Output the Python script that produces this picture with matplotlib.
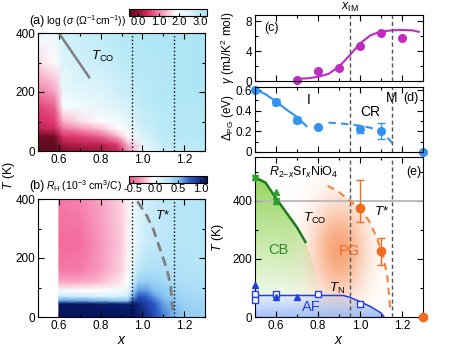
import numpy as np
import matplotlib
matplotlib.use('Agg')
import matplotlib.pyplot as plt
from matplotlib.colors import LinearSegmentedColormap, to_rgb
from matplotlib.patches import Polygon
from matplotlib.ticker import MultipleLocator, FormatStrFormatter

plt.rcParams['font.family'] = ['Liberation Sans', 'DejaVu Sans']
plt.rcParams['font.size'] = 8.5
plt.rcParams['mathtext.fontset'] = 'custom'
plt.rcParams['mathtext.rm'] = 'Liberation Sans'
plt.rcParams['mathtext.it'] = 'Liberation Sans:italic'
plt.rcParams['mathtext.bf'] = 'Liberation Sans:bold'
plt.rcParams['axes.unicode_minus'] = False
plt.rcParams['axes.linewidth'] = 0.8

# ---------------- data ----------------
# (a) log conductivity map, one column per x
sig_x = [0.5, 0.58, 0.62, 0.7, 0.8, 0.88, 0.93, 1.0, 1.1, 1.3]
sig_T = [0, 25, 50, 75, 100, 150, 200, 300, 400]
sig_cols = [
    [-0.4, -0.4, -0.3, 0.3, 0.45, 0.6, 0.95, 1.6, 2.1],
    [-0.4, -0.35, -0.2, 0.4, 0.55, 0.8, 1.2, 1.8, 2.2],
    [-0.1, 0.2, 0.5, 0.9, 1.3, 1.9, 2.2, 2.5, 2.7],
    [0.0, 0.3, 0.6, 1.1, 1.6, 2.1, 2.4, 2.7, 2.8],
    [0.1, 0.35, 0.8, 1.4, 1.8, 2.3, 2.5, 2.8, 2.9],
    [0.3, 0.6, 1.3, 1.8, 2.1, 2.5, 2.7, 2.9, 3.0],
    [1.0, 1.4, 1.8, 2.1, 2.3, 2.6, 2.8, 3.0, 3.1],
    [2.0, 2.3, 2.5, 2.7, 2.8, 2.9, 3.0, 3.1, 3.1],
    [2.8, 2.9, 3.0, 3.0, 3.0, 3.1, 3.1, 3.1, 3.2],
    [3.0, 3.0, 3.1, 3.1, 3.1, 3.1, 3.2, 3.2, 3.2],
]
tco_a_x = [0.6, 0.745]
tco_a_T = [400, 250]

# (b) Hall coefficient map, one column per x
rh_x = [0.6, 0.7, 0.8, 0.9, 0.93, 0.95, 0.98, 1.02, 1.06, 1.1, 1.15, 1.2, 1.3]
rh_T = [0, 45, 55, 70, 90, 120, 160, 250, 400]
rh_cols = [
    [1.15, 1.15, 0.6, 0.25, 0.0, -0.3, -0.45, -0.5, -0.45],
    [1.15, 1.15, 0.6, 0.2, -0.05, -0.3, -0.45, -0.5, -0.42],
    [1.15, 1.12, 0.55, 0.15, -0.05, -0.25, -0.33, -0.35, -0.3],
    [1.15, 1.1, 0.5, 0.15, 0.0, -0.12, -0.18, -0.2, -0.18],
    [1.15, 1.1, 0.5, 0.2, 0.05, -0.05, -0.08, -0.1, -0.1],
    [1.15, 1.1, 0.8, 0.5, 0.3, 0.15, 0.05, 0.0, 0.0],
    [1.12, 1.05, 0.95, 0.8, 0.6, 0.4, 0.25, 0.12, 0.1],
    [1.0, 0.9, 0.85, 0.75, 0.6, 0.45, 0.33, 0.2, 0.18],
    [0.85, 0.75, 0.7, 0.6, 0.5, 0.4, 0.33, 0.25, 0.22],
    [0.7, 0.6, 0.55, 0.5, 0.45, 0.38, 0.32, 0.28, 0.25],
    [0.55, 0.5, 0.47, 0.43, 0.4, 0.35, 0.32, 0.3, 0.28],
    [0.45, 0.42, 0.4, 0.38, 0.36, 0.33, 0.31, 0.3, 0.3],
    [0.4, 0.38, 0.37, 0.35, 0.33, 0.32, 0.3, 0.3, 0.3],
]
tstar_b_x = [0.976, 1.02, 1.053, 1.08, 1.108, 1.125, 1.136, 1.145]
tstar_b_T = [392, 345, 296, 240, 182, 140, 102, 23]

# boundaries x_IM and metal
x_bounds = [0.95, 1.15]

# (c) electronic specific heat coefficient
gam_x = [0.7, 0.8, 0.9, 1.0, 1.1, 1.2]
gam_y = [0.1, 1.3, 1.7, 4.7, 6.4, 5.7]
gam_fit_x = [0.7, 0.75, 0.8, 0.85, 0.9, 0.95, 1.0, 1.05, 1.1, 1.15, 1.2, 1.25, 1.28]
gam_fit_y = [0.3, 0.35, 0.55, 0.95, 1.9, 3.4, 5.0, 6.1, 6.6, 6.75, 6.8, 6.75, 6.55]

# (d) pseudogap size
pg_x = [0.5, 0.6, 0.7, 0.8, 1.0, 1.1, 1.3]
pg_y = [0.6, 0.485, 0.31, 0.245, 0.22, 0.2, 0.0]
pg_err_lo = [0, 0.03, 0.03, 0, 0.035, 0.07, 0]
pg_err_hi = [0, 0.03, 0.03, 0, 0.035, 0.085, 0]
pg_solid_x = [0.5, 0.55, 0.6, 0.65, 0.7, 0.745]
pg_solid_y = [0.61, 0.56, 0.49, 0.41, 0.34, 0.25]
pg_dash_x = [0.85, 0.9, 0.95, 1.0, 1.05, 1.1, 1.14, 1.165]
pg_dash_y = [0.285, 0.278, 0.268, 0.255, 0.235, 0.195, 0.12, 0.06]

# (e) phase diagram
tco_x = [0.5, 0.55, 0.6, 0.65, 0.7, 0.74]
tco_T = [480, 462, 408, 358, 308, 258]
cb_edge_x = [0.77, 0.79, 0.8, 0.8]
cb_edge_T = [200, 150, 100, 74]
tco_up_x = [0.5, 0.6, 0.6]
tco_up_T = [480, 428, 400]
tco_dn_x = [0.5, 0.6]
tco_dn_T = [478, 398]
tn_x = [0.5, 0.8, 0.92, 0.95, 1.0, 1.05, 1.1, 1.115]
tn_T = [74, 74, 74, 68, 53, 36, 14, 0]
tn_sq_x = [0.5, 0.5, 0.6, 0.8, 1.0]
tn_sq_T = [78, 57, 78, 80, 46]
tn_tri_x = [0.5, 0.6, 0.7]
tn_tri_T = [111, 68, 68]
tstar_x = [0.846, 0.9, 0.95, 1.0, 1.043, 1.08, 1.11, 1.13, 1.14, 1.145]
tstar_T = [451, 430, 400, 372, 331, 272, 210, 140, 60, 20]
tstar_pt_x = [1.0, 1.1, 1.3]
tstar_pt_T = [375, 226, 0]
tstar_err_lo = [50, 47, 0]
tstar_err_hi = [95, 47, 0]

# ---------------- colours ----------------
sig_cmap = LinearSegmentedColormap.from_list('sig', [
    (0.0, '#5c0a1e'), (0.118, '#8c1232'), (0.25, '#e0306a'),
    (0.41, '#f592b7'), (0.6, '#ffffff'), (0.78, '#dcf4fb'), (1.0, '#a3e2f4')])
rh_cmap = LinearSegmentedColormap.from_list('rh', [
    (0.0, '#f04f8a'), (0.17, '#f8a5c5'), (0.31, '#ffffff'),
    (0.51, '#b8e6f8'), (0.64, '#80c0f0'), (0.77, '#2f5fcf'), (1.0, '#06155e')])
magenta = '#c02cc0'
lblue = '#3393f0'
orange = '#f26b22'
green = '#1f7a1f'
gmark = '#2aa22a'
blue = '#1f3fe0'


def style(ax, xmaj, xmin, ymaj, ymin):
    ax.xaxis.set_major_locator(MultipleLocator(xmaj))
    ax.xaxis.set_minor_locator(MultipleLocator(xmin))
    ax.yaxis.set_major_locator(MultipleLocator(ymaj))
    ax.yaxis.set_minor_locator(MultipleLocator(ymin))
    ax.tick_params(which='both', direction='in', top=True, right=True, width=0.8, pad=2)
    ax.tick_params(which='major', length=4)
    ax.tick_params(which='minor', length=2.5)


def shade(ax, rgb, alpha, extent, clip_xy, z):
    img = np.zeros(alpha.shape + (4,))
    img[..., :3] = to_rgb(rgb)
    img[..., 3] = np.clip(alpha, 0, 1)
    im = ax.imshow(img, extent=extent, origin='lower', aspect='auto',
                   interpolation='bilinear', zorder=z)
    poly = Polygon(clip_xy, closed=True, transform=ax.transData,
                   facecolor='none', edgecolor='none')
    ax.add_patch(poly)
    im.set_clip_path(poly)


fig = plt.figure(figsize=(4.69, 3.5), dpi=100)
W, H = 469.0, 350.0


def add(l, t, r, b):
    return fig.add_axes([l / W, 1 - b / H, (r - l) / W, (b - t) / H])


# ---------------- (a) ----------------
ax_a = add(38, 33, 205, 151)
ma = ax_a.pcolormesh(sig_x, sig_T, np.array(sig_cols).T, shading='gouraud',
                     cmap=sig_cmap, vmin=-0.45, vmax=3.35, rasterized=True)
ax_a.plot(tco_a_x, tco_a_T, color='#808080', lw=1.8)
for xb in x_bounds:
    ax_a.axvline(xb, color='k', ls=':', lw=1.0)
ax_a.text(0.755, 320, r'$T_{\rm CO}$', fontsize=9.5, va='center')
ax_a.set_xlim(0.5, 1.3)
ax_a.set_ylim(0, 400)
style(ax_a, 0.2, 0.1, 200, 100)
ax_a.xaxis.set_major_formatter(FormatStrFormatter('%.1f'))

cax_a = fig.add_axes([129 / W, 1 - 16 / H, 78 / W, 7 / H])
cb_a = fig.colorbar(ma, cax=cax_a, orientation='horizontal')
cb_a.set_ticks([0, 1, 2, 3])
cb_a.ax.xaxis.set_major_formatter(FormatStrFormatter('%.1f'))
cb_a.ax.tick_params(direction='in', length=2, labelsize=8, pad=1)
cb_a.outline.set_linewidth(0.8)
fig.text(29 / W, 1 - 21 / H, '(a)', fontsize=9, va='center')
fig.text(46 / W, 1 - 21 / H, r'log ($\sigma$ ($\Omega^{-1}$cm$^{-1}$))', fontsize=7.5, va='center')

# ---------------- (b) ----------------
ax_b = add(38, 199, 205, 317)
mb = ax_b.pcolormesh(rh_x, rh_T, np.array(rh_cols).T, shading='gouraud',
                     cmap=rh_cmap, vmin=-0.6, vmax=1.15, rasterized=True)
ax_b.plot(tstar_b_x, tstar_b_T, color='#808080', lw=2.0, dashes=(3.5, 2))
for xb in x_bounds:
    ax_b.axvline(xb, color='k', ls=':', lw=1.0)
ax_b.text(1.06, 345, r'$T$*', fontsize=9.5, va='center')
ax_b.set_xlim(0.5, 1.3)
ax_b.set_ylim(0, 400)
style(ax_b, 0.2, 0.1, 200, 100)
ax_b.xaxis.set_major_formatter(FormatStrFormatter('%.1f'))
ax_b.set_xlabel(r'$x$', fontsize=10, labelpad=1)

cax_b = fig.add_axes([129 / W, 1 - 183 / H, 78 / W, 7 / H])
cb_b = fig.colorbar(mb, cax=cax_b, orientation='horizontal')
cb_b.set_ticks([-0.5, 0, 0.5, 1.0])
cb_b.ax.xaxis.set_major_formatter(FormatStrFormatter('%.1f'))
cb_b.ax.tick_params(direction='in', length=2, labelsize=8, pad=1)
cb_b.outline.set_linewidth(0.8)
fig.text(29 / W, 1 - 186 / H, '(b)', fontsize=9, va='center')
fig.text(46 / W, 1 - 186 / H, r'$R_{\rm H}$ (10$^{-3}$ cm$^3$/C)', fontsize=7.5, va='center')

fig.text(9 / W, 1 - 175 / H, r'$T$ (K)', rotation=90, ha='center', va='center', fontsize=9)

# ---------------- (c) ----------------
ax_c = add(255, 15, 423, 81)
ax_c.plot(gam_fit_x, gam_fit_y, color=magenta, lw=1.5)
ax_c.plot(gam_x, gam_y, 'o', color=magenta, ms=5.5, clip_on=False)
for xb in x_bounds:
    ax_c.axvline(xb, color='#555555', lw=1.0, dashes=(3, 2))
ax_c.set_xlim(0.5, 1.3)
ax_c.set_ylim(0, 8.8)
style(ax_c, 0.2, 0.1, 4, 2)
ax_c.set_xticklabels([])
ax_c.text(0.545, 7.0, '(c)', fontsize=9, va='center')
ax_c.text(0.95, 1.12, r'$x_{\rm IM}$', transform=ax_c.get_xaxis_transform(),
          ha='center', va='center', fontsize=9)
fig.text(228 / W, 1 - 48 / H, r'$\gamma$ (mJ/K$^2$ mol)', rotation=90,
         ha='center', va='center', fontsize=8.5)

# ---------------- (d) ----------------
ax_d = add(255, 87, 423, 152)
ax_d.plot(pg_solid_x, pg_solid_y, color=lblue, lw=1.5)
ax_d.plot(pg_dash_x, pg_dash_y, color=lblue, lw=1.5, dashes=(3.5, 2.5))
ax_d.errorbar(pg_x, pg_y, yerr=[pg_err_lo, pg_err_hi], fmt='o', color=lblue,
              ms=5.5, capsize=3, elinewidth=1, capthick=1, clip_on=False)
for xb in x_bounds:
    ax_d.axvline(xb, color='#555555', lw=1.0, dashes=(3, 2))
ax_d.set_xlim(0.5, 1.3)
ax_d.set_ylim(0, 0.63)
style(ax_d, 0.2, 0.1, 0.2, 0.1)
ax_d.set_xticklabels([])
ax_d.yaxis.set_major_formatter(plt.FuncFormatter(lambda v, p: '0' if abs(v) < 1e-9 else '%.1f' % v))
ax_d.text(0.755, 0.5, 'I', fontsize=10, va='center', ha='center')
ax_d.text(1.05, 0.39, 'CR', fontsize=10, va='center', ha='center')
ax_d.text(1.15, 0.52, 'M', fontsize=10, va='center', ha='center')
ax_d.text(1.205, 0.52, '(d)', fontsize=9, va='center')
fig.text(228 / W, 1 - 118 / H, r'$\Delta_{\rm PG}$ (eV)', rotation=90,
         ha='center', va='center', fontsize=8.5)

# ---------------- (e) ----------------
ax_e = add(255, 157, 423, 317)
xlo, xhi, tlo, thi = 0.5, 1.3, 0, 550
gx, gT = np.meshgrid(np.linspace(xlo, xhi, 240), np.linspace(tlo, thi, 240))

# pseudogap glow
pg_alpha = 0.62 * np.exp(-((gx - 0.9) / 0.13) ** 2 - ((gT - 230) / 165) ** 2)
pg_clip = [(xlo, tlo), (xlo, thi), (tstar_x[0], thi)] + list(zip(tstar_x, tstar_T)) + [(tstar_x[-1], tlo)]
shade(ax_e, orange, pg_alpha, (xlo, xhi, tlo, thi), pg_clip, 1)

# charge-ordered (CB) region
cb_alpha = (0.12 + 0.7 * np.clip((gT - 74) / (480 - 74), 0, 1)) * np.clip(1 - 0.6 * (gx - 0.68) / 0.12, 0.4, 1)
cb_clip = list(zip(tco_x, tco_T)) + list(zip(cb_edge_x, cb_edge_T)) + [(xlo, tn_T[0])]
shade(ax_e, '#7fcc3c', cb_alpha, (xlo, xhi, tlo, thi), cb_clip, 1.5)

# antiferromagnetic region
af_alpha = 0.15 + 0.4 * np.clip(1 - gT / 74, 0, 1)
af_clip = list(zip(tn_x, tn_T)) + [(xlo, tlo)]
shade(ax_e, '#5a8ff0', af_alpha, (xlo, xhi, tlo, thi), af_clip, 1.5)

ax_e.axhline(400, color='#b8b8b8', lw=1.3, zorder=2)
for xb in x_bounds:
    ax_e.axvline(xb, color='#555555', lw=1.0, dashes=(3, 2), zorder=2)

ax_e.plot(tco_x, tco_T, color=green, lw=1.8, zorder=3)
ax_e.plot(tn_x, tn_T, color=blue, lw=1.1, zorder=3)
ax_e.plot(tstar_x, tstar_T, color='#f5843a', lw=1.5, dashes=(3.5, 2.5), zorder=3)

ax_e.plot(tco_up_x, tco_up_T, '^', color=gmark, ms=5, zorder=4, clip_on=False)
ax_e.plot(tco_dn_x, tco_dn_T, 'v', color=gmark, ms=5, zorder=4, clip_on=False)
ax_e.plot(tn_sq_x, tn_sq_T, 's', mfc='white', mec=blue, mew=1.0, ms=5, zorder=4, clip_on=False)
ax_e.plot(tn_tri_x, tn_tri_T, '^', color=blue, ms=5, zorder=5, clip_on=False)
ax_e.errorbar(tstar_pt_x, tstar_pt_T, yerr=[tstar_err_lo, tstar_err_hi], fmt='o',
              color=orange, ms=6, capsize=3, elinewidth=1, capthick=1, zorder=5, clip_on=False)

ax_e.set_xlim(xlo, xhi)
ax_e.set_ylim(tlo, thi)
style(ax_e, 0.2, 0.1, 200, 100)
ax_e.xaxis.set_major_formatter(FormatStrFormatter('%.1f'))
ax_e.set_xlabel(r'$x$', fontsize=10, labelpad=1)

ax_e.text(0.73, 497, r'$R_{2\mathrm{-}x}$Sr$_x$NiO$_4$', fontsize=9, ha='center', va='center')
ax_e.text(1.22, 497, '(e)', fontsize=9, va='center')
ax_e.text(0.73, 340, r'$T_{\rm CO}$', fontsize=9.5, va='center')
ax_e.text(0.61, 229, 'CB', fontsize=10.5, color='#2e8b22', ha='center', va='center')
ax_e.text(0.95, 226, 'PG', fontsize=10.5, color=orange, ha='center', va='center')
ax_e.text(0.77, 34, 'AF', fontsize=10.5, color=blue, ha='center', va='center')
ax_e.text(0.85, 97, r'$T_{\rm N}$', fontsize=9.5, va='center')
ax_e.text(1.065, 362, r'$T$*', fontsize=9.5, va='center')
fig.text(218 / W, 1 - 237 / H, r'$T$ (K)', rotation=90, ha='center', va='center', fontsize=9)

fig.savefig('out.png', dpi=100)
